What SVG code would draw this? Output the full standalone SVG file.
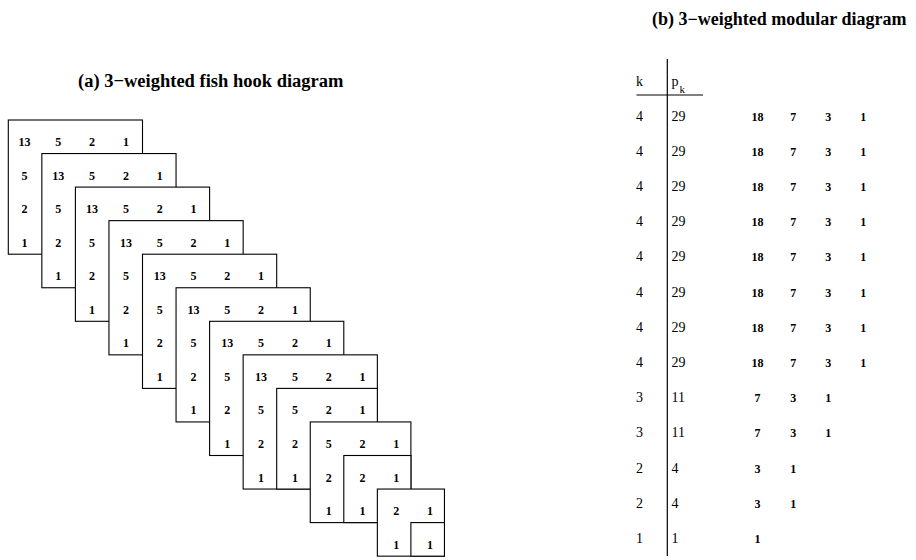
<svg xmlns="http://www.w3.org/2000/svg" width="916" height="560" viewBox="0 0 916 560">
<style>
.title{font-family:"Liberation Serif","Times New Roman",serif;font-weight:bold;font-size:18.5px;fill:#000}
.box{fill:#fff;stroke:#000;stroke-width:1.1}
.n{font-family:"Liberation Serif","Times New Roman",serif;font-weight:bold;font-size:12px;fill:#000;text-anchor:middle}
.t{font-family:"Liberation Serif","Times New Roman",serif;font-size:14px;fill:#000}
.sub{font-family:"Liberation Serif","Times New Roman",serif;font-size:11px;fill:#000}
.rule{stroke:#000;stroke-width:1.2;fill:none}
</style>
<rect width="916" height="560" fill="#fff"/>
<text class="title" x="78" y="87">(a) 3−weighted fish hook diagram</text>
<text class="title" x="652" y="25" style="font-size:18px">(b) 3−weighted modular diagram</text>

<g id="hook1"><rect class="box" x="8.3" y="120" width="134.2" height="134.2"/>
<text class="n" x="24.5" y="146">13</text><text class="n" x="58.3" y="146">5</text><text class="n" x="92.1" y="146">2</text><text class="n" x="125.9" y="146">1</text>
<text class="n" x="24.5" y="179.55">5</text><text class="n" x="24.5" y="213.1">2</text><text class="n" x="24.5" y="246.65">1</text></g>
<g id="hook2"><rect class="box" x="41.85" y="153.55" width="134.2" height="134.2"/>
<text class="n" x="58.3" y="179.55">13</text><text class="n" x="92.1" y="179.55">5</text><text class="n" x="125.9" y="179.55">2</text><text class="n" x="159.7" y="179.55">1</text>
<text class="n" x="58.3" y="213.1">5</text><text class="n" x="58.3" y="246.65">2</text><text class="n" x="58.3" y="280.2">1</text></g>
<g id="hook3"><rect class="box" x="75.4" y="187.1" width="134.2" height="134.2"/>
<text class="n" x="92.1" y="213.1">13</text><text class="n" x="125.9" y="213.1">5</text><text class="n" x="159.7" y="213.1">2</text><text class="n" x="193.5" y="213.1">1</text>
<text class="n" x="92.1" y="246.65">5</text><text class="n" x="92.1" y="280.2">2</text><text class="n" x="92.1" y="313.75">1</text></g>
<g id="hook4"><rect class="box" x="108.95" y="220.65" width="134.2" height="134.2"/>
<text class="n" x="125.9" y="246.65">13</text><text class="n" x="159.7" y="246.65">5</text><text class="n" x="193.5" y="246.65">2</text><text class="n" x="227.3" y="246.65">1</text>
<text class="n" x="125.9" y="280.2">5</text><text class="n" x="125.9" y="313.75">2</text><text class="n" x="125.9" y="347.3">1</text></g>
<g id="hook5"><rect class="box" x="142.5" y="254.2" width="134.2" height="134.2"/>
<text class="n" x="159.7" y="280.2">13</text><text class="n" x="193.5" y="280.2">5</text><text class="n" x="227.3" y="280.2">2</text><text class="n" x="261.1" y="280.2">1</text>
<text class="n" x="159.7" y="313.75">5</text><text class="n" x="159.7" y="347.3">2</text><text class="n" x="159.7" y="380.85">1</text></g>
<g id="hook6"><rect class="box" x="176.05" y="287.75" width="134.2" height="134.2"/>
<text class="n" x="193.5" y="313.75">13</text><text class="n" x="227.3" y="313.75">5</text><text class="n" x="261.1" y="313.75">2</text><text class="n" x="294.9" y="313.75">1</text>
<text class="n" x="193.5" y="347.3">5</text><text class="n" x="193.5" y="380.85">2</text><text class="n" x="193.5" y="414.4">1</text></g>
<g id="hook7"><rect class="box" x="209.6" y="321.3" width="134.2" height="134.2"/>
<text class="n" x="227.3" y="347.3">13</text><text class="n" x="261.1" y="347.3">5</text><text class="n" x="294.9" y="347.3">2</text><text class="n" x="328.7" y="347.3">1</text>
<text class="n" x="227.3" y="380.85">5</text><text class="n" x="227.3" y="414.4">2</text><text class="n" x="227.3" y="447.95">1</text></g>
<g id="hook8"><rect class="box" x="243.15" y="354.85" width="134.2" height="134.2"/>
<text class="n" x="261.1" y="380.85">13</text><text class="n" x="294.9" y="380.85">5</text><text class="n" x="328.7" y="380.85">2</text><text class="n" x="362.5" y="380.85">1</text>
<text class="n" x="261.1" y="414.4">5</text><text class="n" x="261.1" y="447.95">2</text><text class="n" x="261.1" y="481.5">1</text></g>
<g id="hook9"><rect class="box" x="276.7" y="388.4" width="100.65" height="100.65"/>
<text class="n" x="294.9" y="414.4">5</text><text class="n" x="328.7" y="414.4">2</text><text class="n" x="362.5" y="414.4">1</text>
<text class="n" x="294.9" y="447.95">2</text><text class="n" x="294.9" y="481.5">1</text></g>
<g id="hook10"><rect class="box" x="310.25" y="421.95" width="100.65" height="100.65"/>
<text class="n" x="328.7" y="447.95">5</text><text class="n" x="362.5" y="447.95">2</text><text class="n" x="396.3" y="447.95">1</text>
<text class="n" x="328.7" y="481.5">2</text><text class="n" x="328.7" y="515.05">1</text></g>
<g id="hook11"><rect class="box" x="343.8" y="455.5" width="67.1" height="67.1"/>
<text class="n" x="362.5" y="481.5">2</text><text class="n" x="396.3" y="481.5">1</text>
<text class="n" x="362.5" y="515.05">1</text></g>
<g id="hook12"><rect class="box" x="377.35" y="489.05" width="67.1" height="67.1"/>
<text class="n" x="396.3" y="515.05">2</text><text class="n" x="430.1" y="515.05">1</text>
<text class="n" x="396.3" y="548.6">1</text></g>
<g id="hook13"><rect class="box" x="410.9" y="522.6" width="33.55" height="33.55"/>
<text class="n" x="430.1" y="548.6">1</text></g>

<g id="table-rules">
<line class="rule" x1="667.3" y1="59" x2="667.3" y2="556"/>
<line class="rule" x1="636.5" y1="95" x2="703" y2="95"/>
</g>
<g id="table-header">
<text class="t" x="636" y="85.5">k</text>
<text class="t" x="671.5" y="85.5">p</text><text class="sub" x="679.5" y="93">k</text>
</g>
<g id="row1"><text class="t" x="636" y="120.5">4</text><text class="t" x="671.5" y="120.5">29</text>
<text class="n" x="757.5" y="120.5">18</text><text class="n" x="793.3" y="120.5">7</text><text class="n" x="828.3" y="120.5">3</text><text class="n" x="863.3" y="120.5">1</text></g>
<g id="row2"><text class="t" x="636" y="155.7">4</text><text class="t" x="671.5" y="155.7">29</text>
<text class="n" x="757.5" y="155.7">18</text><text class="n" x="793.3" y="155.7">7</text><text class="n" x="828.3" y="155.7">3</text><text class="n" x="863.3" y="155.7">1</text></g>
<g id="row3"><text class="t" x="636" y="190.9">4</text><text class="t" x="671.5" y="190.9">29</text>
<text class="n" x="757.5" y="190.9">18</text><text class="n" x="793.3" y="190.9">7</text><text class="n" x="828.3" y="190.9">3</text><text class="n" x="863.3" y="190.9">1</text></g>
<g id="row4"><text class="t" x="636" y="226.1">4</text><text class="t" x="671.5" y="226.1">29</text>
<text class="n" x="757.5" y="226.1">18</text><text class="n" x="793.3" y="226.1">7</text><text class="n" x="828.3" y="226.1">3</text><text class="n" x="863.3" y="226.1">1</text></g>
<g id="row5"><text class="t" x="636" y="261.3">4</text><text class="t" x="671.5" y="261.3">29</text>
<text class="n" x="757.5" y="261.3">18</text><text class="n" x="793.3" y="261.3">7</text><text class="n" x="828.3" y="261.3">3</text><text class="n" x="863.3" y="261.3">1</text></g>
<g id="row6"><text class="t" x="636" y="296.5">4</text><text class="t" x="671.5" y="296.5">29</text>
<text class="n" x="757.5" y="296.5">18</text><text class="n" x="793.3" y="296.5">7</text><text class="n" x="828.3" y="296.5">3</text><text class="n" x="863.3" y="296.5">1</text></g>
<g id="row7"><text class="t" x="636" y="331.7">4</text><text class="t" x="671.5" y="331.7">29</text>
<text class="n" x="757.5" y="331.7">18</text><text class="n" x="793.3" y="331.7">7</text><text class="n" x="828.3" y="331.7">3</text><text class="n" x="863.3" y="331.7">1</text></g>
<g id="row8"><text class="t" x="636" y="366.9">4</text><text class="t" x="671.5" y="366.9">29</text>
<text class="n" x="757.5" y="366.9">18</text><text class="n" x="793.3" y="366.9">7</text><text class="n" x="828.3" y="366.9">3</text><text class="n" x="863.3" y="366.9">1</text></g>
<g id="row9"><text class="t" x="636" y="402.1">3</text><text class="t" x="671.5" y="402.1">11</text>
<text class="n" x="757.5" y="402.1">7</text><text class="n" x="793.3" y="402.1">3</text><text class="n" x="828.3" y="402.1">1</text></g>
<g id="row10"><text class="t" x="636" y="437.3">3</text><text class="t" x="671.5" y="437.3">11</text>
<text class="n" x="757.5" y="437.3">7</text><text class="n" x="793.3" y="437.3">3</text><text class="n" x="828.3" y="437.3">1</text></g>
<g id="row11"><text class="t" x="636" y="472.5">2</text><text class="t" x="671.5" y="472.5">4</text>
<text class="n" x="757.5" y="472.5">3</text><text class="n" x="793.3" y="472.5">1</text></g>
<g id="row12"><text class="t" x="636" y="507.7">2</text><text class="t" x="671.5" y="507.7">4</text>
<text class="n" x="757.5" y="507.7">3</text><text class="n" x="793.3" y="507.7">1</text></g>
<g id="row13"><text class="t" x="636" y="542.9">1</text><text class="t" x="671.5" y="542.9">1</text>
<text class="n" x="757.5" y="542.9">1</text></g>
</svg>
